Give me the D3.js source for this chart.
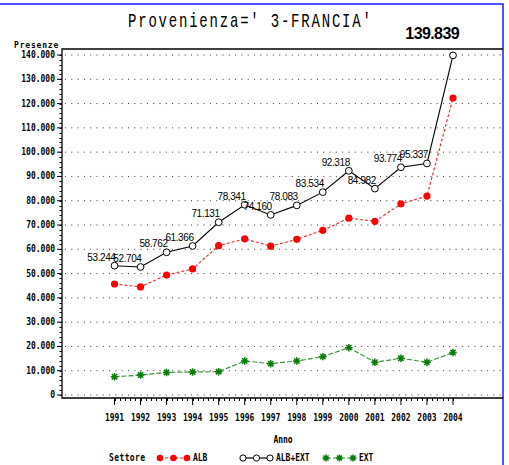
<!DOCTYPE html>
<html>
<head>
<meta charset="utf-8">
<script src="https://cdn.jsdelivr.net/npm/d3@7"></script>
<style>
  body { margin: 0; background: #fff; }
  svg { display: block; }
  .tk { font-family: "DejaVu Sans Mono", monospace; font-weight: bold; font-size: 8px; fill: #000; }
</style>
</head>
<body>
<script>
// data
const years = [1991, 1992, 1993, 1994, 1995, 1996, 1997, 1998, 1999, 2000, 2001, 2002, 2003, 2004];
const albExt = [53244, 52704, 58762, 61366, 71131, 78341, 74160, 78083, 83534, 92318, 84982, 93774, 95337, 139839];
const alb = [45700, 44500, 49400, 51900, 61500, 64300, 61300, 64100, 67800, 72800, 71500, 78700, 81900, 122300];
const ext = [7500, 8200, 9300, 9500, 9600, 14000, 12900, 14000, 15800, 19500, 13500, 15100, 13500, 17500];
const yTicks = [0, 10000, 20000, 30000, 40000, 50000, 60000, 70000, 80000, 90000, 100000, 110000, 120000, 130000, 140000];
const legendNames = ['ALB', 'ALB+EXT', 'EXT'];

const W = 509, H = 465;
const it = d3.formatLocale({ decimal: ',', thousands: '.', grouping: [3], currency: ['', '€'] });
const fmt = it.format(',.0f');

const svg = d3.select('body').append('svg')
  .attr('width', W)
  .attr('height', H);

const x = d3.scaleLinear().domain([1991, 2004]).range([114.5, 453]);
const y = d3.scaleLinear().domain([0, 140000]).range([395, 55]);

const pLeft = 62, pRight = 503, pTop = 49, pBottom = 398;

// stretched text helper (the original font is tall and narrow)
function stretch(sel, sy) {
  sel.attr('transform', function () {
    const tx = +this.getAttribute('data-x'), ty = +this.getAttribute('data-y');
    return `translate(${tx},${ty}) scale(1,${sy})`;
  });
}

// star marker, plus and times on top of each other
const star = {
  draw(ctx, size) {
    const r = Math.sqrt(size) / 2, d = r * 0.72;
    ctx.moveTo(-r, 0); ctx.lineTo(r, 0);
    ctx.moveTo(0, -r); ctx.lineTo(0, r);
    ctx.moveTo(-d, -d); ctx.lineTo(d, d);
    ctx.moveTo(-d, d); ctx.lineTo(d, -d);
  }
};

// blue border of the graph window
svg.append('path')
  .attr('d', `M0,4H${pRight}V${H}`)
  .attr('fill', 'none')
  .attr('stroke', '#1a1aff')
  .attr('stroke-width', 1.5);

// title
svg.append('text')
  .attr('data-x', 128).attr('data-y', 27)
  .attr('font-family', '"Liberation Mono", monospace')
  .attr('font-size', 14)
  .attr('letter-spacing', 1.8)
  .attr('fill', '#000')
  .text("Provenienza=' 3-FRANCIA'")
  .call(stretch, 1.45);

// grid
svg.append('g').selectAll('line')
  .data(yTicks)
  .join('line')
  .attr('x1', pLeft + 3).attr('x2', pRight - 2)
  .attr('y1', d => y(d)).attr('y2', d => y(d))
  .attr('stroke', '#333')
  .attr('stroke-dasharray', '1,5.3');

// frame
svg.append('path')
  .attr('d', `M${pRight},${pTop}H${pLeft}V${pBottom}H${pRight}`)
  .attr('fill', 'none')
  .attr('stroke', '#000')
  .attr('stroke-width', 1.3);

// y axis
const yAxis = svg.append('g');
yAxis.selectAll('line.minor')
  .data(d3.range(0, 140001, 2000))
  .join('line')
  .attr('class', 'minor')
  .attr('x1', pLeft - 2.5).attr('x2', pLeft)
  .attr('y1', d => Math.round(y(d)) + 0.5).attr('y2', d => Math.round(y(d)) + 0.5)
  .attr('stroke', '#000');
yAxis.selectAll('line.major')
  .data(yTicks)
  .join('line')
  .attr('class', 'major')
  .attr('x1', pLeft - 5).attr('x2', pLeft)
  .attr('y1', d => y(d)).attr('y2', d => y(d))
  .attr('stroke', '#000');
yAxis.selectAll('text')
  .data(yTicks)
  .join('text')
  .attr('class', 'tk')
  .attr('text-anchor', 'end')
  .attr('data-x', 55).attr('data-y', d => y(d) + 3)
  .text(d => fmt(d))
  .call(stretch, 1.2);
svg.append('text')
  .attr('class', 'tk')
  .attr('text-anchor', 'end')
  .attr('font-size', 7.5)
  .attr('letter-spacing', 0.8)
  .attr('data-x', 59).attr('data-y', 48)
  .text('Presenze')
  .call(stretch, 1.0);

// x axis
const xAxis = svg.append('g');
xAxis.selectAll('line.minor')
  .data(d3.range(0, 13 * 5 + 1).map(i => 1991 + i / 5))
  .join('line')
  .attr('class', 'minor')
  .attr('x1', d => Math.round(x(d)) + 0.5).attr('x2', d => Math.round(x(d)) + 0.5)
  .attr('y1', pBottom).attr('y2', pBottom + 3)
  .attr('stroke', '#000');
xAxis.selectAll('line.major')
  .data(years)
  .join('line')
  .attr('class', 'major')
  .attr('x1', d => x(d)).attr('x2', d => x(d))
  .attr('y1', pBottom).attr('y2', pBottom + 7)
  .attr('stroke', '#000');
xAxis.selectAll('text')
  .data(years)
  .join('text')
  .attr('class', 'tk')
  .attr('text-anchor', 'middle')
  .attr('data-x', d => x(d)).attr('data-y', 421)
  .text(d => d)
  .call(stretch, 1.2);
svg.append('text')
  .attr('class', 'tk')
  .attr('text-anchor', 'middle')
  .attr('data-x', 283).attr('data-y', 443)
  .text('Anno')
  .call(stretch, 1.2);

// series
const line = d3.line()
  .x((d, i) => x(years[i]))
  .y(d => y(d));

svg.append('path')
  .attr('d', line(ext))
  .attr('fill', 'none')
  .attr('stroke', '#3c963c')
  .attr('stroke-width', 1.2)
  .attr('stroke-dasharray', '5,2');
svg.append('path')
  .attr('d', line(alb))
  .attr('fill', 'none')
  .attr('stroke', '#ff2020')
  .attr('stroke-width', 1.1)
  .attr('stroke-dasharray', '3,2');
svg.append('path')
  .attr('d', line(albExt))
  .attr('fill', 'none')
  .attr('stroke', '#000')
  .attr('stroke-width', 1.1);

svg.append('g').selectAll('path')
  .data(ext)
  .join('path')
  .attr('transform', (d, i) => `translate(${x(years[i])},${y(d)})`)
  .attr('d', d3.symbol(star, 56))
  .attr('stroke', '#0a7a0a')
  .attr('stroke-width', 1.5);
svg.append('g').selectAll('circle')
  .data(alb)
  .join('circle')
  .attr('cx', (d, i) => x(years[i]))
  .attr('cy', d => y(d))
  .attr('r', 3.6)
  .attr('fill', '#ff0000');
svg.append('g').selectAll('circle')
  .data(albExt)
  .join('circle')
  .attr('cx', (d, i) => x(years[i]))
  .attr('cy', d => y(d))
  .attr('r', 3.4)
  .attr('fill', '#fff')
  .attr('stroke', '#000')
  .attr('stroke-width', 1);

// value labels on ALB+EXT
const last = albExt.length - 1;
svg.append('g').selectAll('text')
  .data(albExt.slice(0, last))
  .join('text')
  .attr('x', (d, i) => x(years[i]) + 1)
  .attr('y', d => y(d) - 5)
  .attr('text-anchor', 'end')
  .attr('font-family', '"Liberation Sans", Arial, sans-serif')
  .attr('font-size', 10)
  .attr('letter-spacing', -0.4)
  .attr('fill', '#000')
  .text(d => fmt(d));
svg.append('text')
  .attr('x', x(years[last]) + 6)
  .attr('y', 39)
  .attr('text-anchor', 'end')
  .attr('font-family', '"Liberation Sans", Arial, sans-serif')
  .attr('font-weight', 'bold')
  .attr('font-size', 16)
  .attr('letter-spacing', -0.6)
  .attr('fill', '#000')
  .text(fmt(albExt[last]));

// legend
const ly = 458;
svg.append('text')
  .attr('class', 'tk')
  .attr('letter-spacing', 0.4)
  .attr('data-x', 109).attr('data-y', ly + 3)
  .text('Settore')
  .call(stretch, 1.2);
const legendX = [160, 243, 326];
const legendColor = ['#ff2020', '#000', '#3c963c'];
const legendDash = ['3,2', null, '5,2'];
const lg = svg.append('g').selectAll('g')
  .data(legendNames)
  .join('g')
  .attr('transform', (d, i) => `translate(${legendX[i]},${ly})`);
lg.append('line')
  .attr('x1', 0).attr('x2', 27)
  .attr('stroke', (d, i) => legendColor[i])
  .attr('stroke-width', 1.2)
  .attr('stroke-dasharray', (d, i) => legendDash[i]);
lg.each(function (d, i) {
  const g = d3.select(this);
  const pts = [0, 13.5, 27];
  if (i === 0) {
    g.selectAll('circle').data(pts).join('circle')
      .attr('cx', p => p).attr('r', 3.3).attr('fill', '#ff0000');
  } else if (i === 1) {
    g.selectAll('circle').data(pts).join('circle')
      .attr('cx', p => p).attr('r', 3.1).attr('fill', '#fff')
      .attr('stroke', '#000');
  } else {
    g.selectAll('path').data(pts).join('path')
      .attr('transform', p => `translate(${p},0)`)
      .attr('d', d3.symbol(star, 50))
      .attr('stroke', '#0a7a0a').attr('stroke-width', 1.5);
  }
});
svg.append('g').selectAll('text')
  .data(legendNames)
  .join('text')
  .attr('class', 'tk')
  .attr('data-x', (d, i) => legendX[i] + 33).attr('data-y', ly + 3)
  .text(d => d)
  .call(stretch, 1.2);
</script>
</body>
</html>
